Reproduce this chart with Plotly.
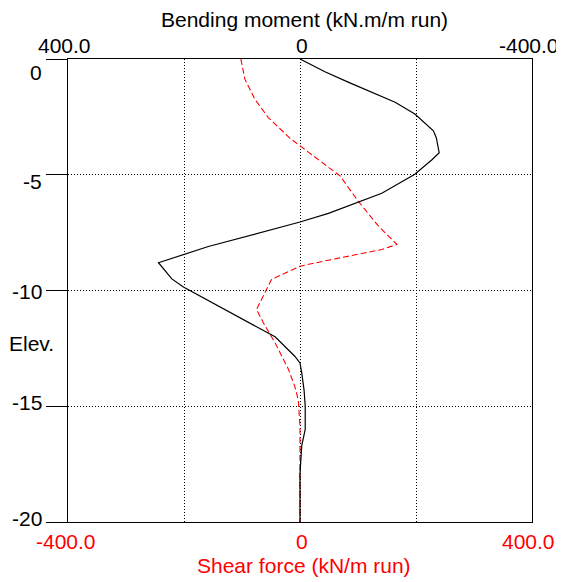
import plotly.graph_objects as go

# Bending moment (kN.m/m run) vs elevation
bm_elev = [0, -0.55, -1.0, -1.48, -1.87, -2.38, -2.78, -3.1, -3.4, -4.05, -4.36, -4.98,
           -5.8, -6.2, -6.67, -7.04, -7.65, -8.1, -8.8, -9.5, -9.85, -10.7, -11.5, -12.0,
           -12.84, -13.13, -13.56, -14.3, -15.0, -16.0, -16.7, -17.9, -20.0]
bm_vals = [0, -43, -83, -129, -164, -198, -215, -230, -235, -240, -227, -198,
           -141, -100, -49, 0, 89, 158, 244, 221, 201, 139, 78, 43,
           9, 0, -3, -7, -9, -9, -3, 0, 0]

# Shear force (kN/m run) vs elevation
sf_elev = [0, -0.87, -1.73, -2.52, -3.43, -3.75, -4.69, -5.05, -6.13, -7.21, -8.01,
           -8.23, -8.69, -8.95, -9.52, -9.96, -10.82, -11.4, -12.26, -13.4, -14.14,
           -14.72, -15.87, -20.0]
sf_vals = [-102, -95, -78, -55, -17, 0, 49, 69, 100, 135, 167,
           141, 49, 0, -49, -58, -75, -63, -43, -20, -9,
           -3, 0, 0]

elev_ticks = [0, -5, -10, -15, -20]
elev_labels = ["0", "-5", "-10", "-15", "-20"]
bm_ticks = [400, 0, -400]
bm_labels = ["400.0", "0", "-400.0"]
sf_ticks = [-400, 0, 400]
sf_labels = ["-400.0", "0", "400.0"]
grid_x = [-400, -200, 0, 200, 400]

FONT = "Liberation Sans, Arial, sans-serif"
FS = 21

fig = go.Figure()
fig.add_trace(go.Scatter(x=sf_vals, y=sf_elev, mode="lines", xaxis="x", yaxis="y",
                         line=dict(color="#ff0000", width=1.1, dash="6px,3px"),
                         showlegend=False, hoverinfo="skip"))
fig.add_trace(go.Scatter(x=bm_vals, y=bm_elev, mode="lines", xaxis="x2", yaxis="y",
                         line=dict(color="#000000", width=1.2),
                         showlegend=False, hoverinfo="skip"))

# page body has an 8px margin, so the figure is sized/offset to compensate
fig.update_layout(
    width=556, height=574,
    margin=dict(l=60, r=32, t=51, b=60),
    paper_bgcolor="white", plot_bgcolor="white",
    font=dict(family=FONT, size=FS, color="black"),
    xaxis=dict(range=[-400, 400], tickvals=grid_x, showticklabels=False,
               showgrid=True, gridcolor="black", gridwidth=1, griddash="1px,2px",
               zeroline=False, showline=True, linecolor="black", linewidth=1,
               mirror=True, ticks="", fixedrange=True),
    xaxis2=dict(range=[400, -400], overlaying="x", side="top", showticklabels=False,
                showgrid=False, zeroline=False, showline=False, ticks="", fixedrange=True),
    yaxis=dict(range=[-20, 0], tickvals=elev_ticks, showticklabels=False,
               showgrid=True, gridcolor="black", gridwidth=1, griddash="1px,2px",
               zeroline=False, showline=True, linecolor="black", linewidth=1,
               mirror=True, ticks="outside", ticklen=21, tickcolor="black",
               tickwidth=1, fixedrange=True),
)

ann = []
# y tick labels (offsets mimic the original placement)
y_shifts = [-13, -7, -1, 4, 4]
for v, t, s in zip(elev_ticks, elev_labels, y_shifts):
    ann.append(dict(x=0, xref="paper", y=v, yref="y", text=t, showarrow=False,
                    xanchor="right", yanchor="middle", xshift=-24, yshift=s,
                    font=dict(family=FONT, size=FS, color="black")))
# top (bending moment) tick labels
top_xshift = [-4, 2, 0]
for v, t, s in zip(bm_ticks, bm_labels, top_xshift):
    a = dict(x=v, xref="x2", y=1, yref="paper", text=t, showarrow=False,
             xanchor="center", yanchor="middle", xshift=s, yshift=14,
             font=dict(family=FONT, size=FS, color="black"))
    if v == -400:
        a["xanchor"] = "right"
        a["xshift"] = 29
    ann.append(a)
# bottom (shear force) tick labels
bot_xshift = [-2, 2, -4]
for v, t, s in zip(sf_ticks, sf_labels, bot_xshift):
    ann.append(dict(x=v, xref="x", y=0, yref="paper", text=t, showarrow=False,
                    xanchor="center", yanchor="middle", xshift=s, yshift=-19,
                    font=dict(family=FONT, size=FS, color="#ff0000")))
# axis titles
ann.append(dict(x=0, xref="x2", y=1, yref="paper", text="Bending moment (kN.m/m run)",
                showarrow=False, xanchor="center", yanchor="middle", xshift=4, yshift=40,
                font=dict(family=FONT, size=FS, color="black")))
ann.append(dict(x=0, xref="x", y=0, yref="paper", text="Shear force (kN/m run)",
                showarrow=False, xanchor="center", yanchor="middle", xshift=4, yshift=-43,
                font=dict(family=FONT, size=FS, color="#ff0000")))
ann.append(dict(x=0, xref="paper", y=-12.3, yref="y", text="Elev.",
                showarrow=False, xanchor="right", yanchor="middle", xshift=-12,
                font=dict(family=FONT, size=FS, color="black")))
fig.update_layout(annotations=ann)

fig.write_html("out.html")
